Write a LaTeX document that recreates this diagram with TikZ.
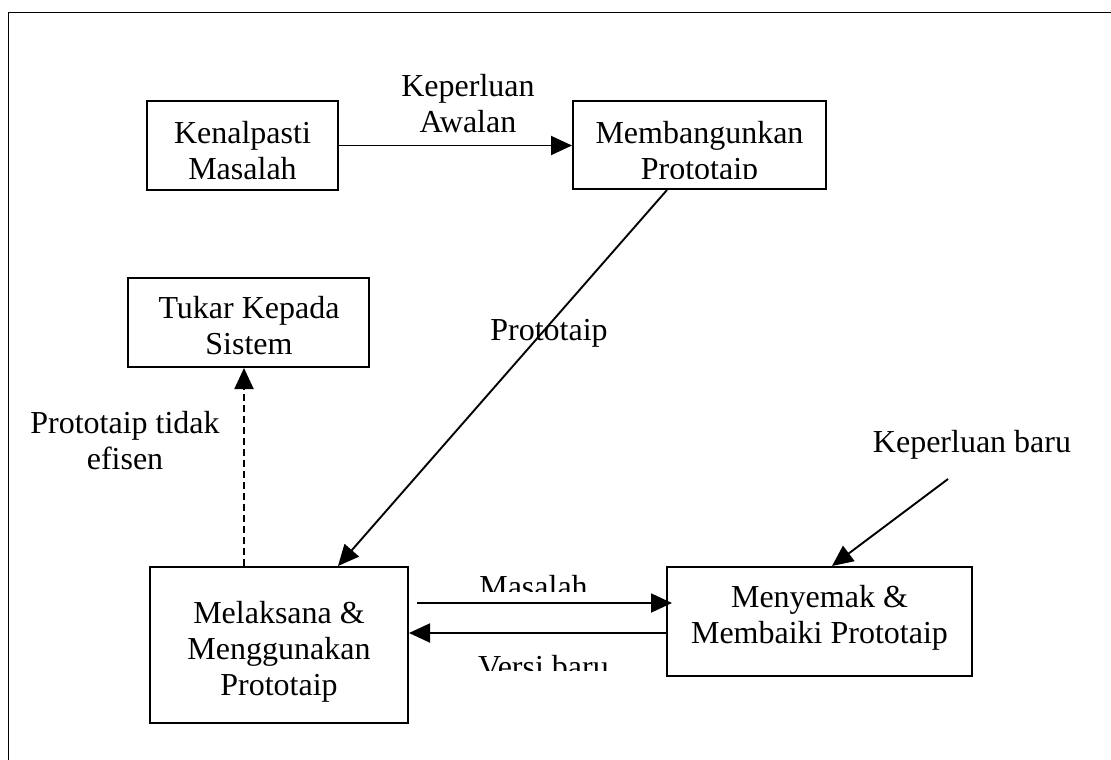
\documentclass[tikz,border=0pt]{standalone}
\usepackage{fontspec}
\setmainfont{Liberation Serif}
\usetikzlibrary{arrows.meta}
\begin{document}
\begin{tikzpicture}[x=1pt,y=-1pt,
  box/.style={draw, line width=2pt, inner sep=0pt},
  lbl/.style={font=\fontsize{32}{36}\selectfont, align=center, inner sep=0pt},
  flow/.style={line width=1.9pt, -{Triangle[length=21pt,width=19pt]}},
]
\useasboundingbox (0,0) rectangle (1111,760);
% page frame (top and left edges)
\draw[line width=1.8pt] (1111,12.5) -- (8.5,12.5) -- (8.5,760);

% process boxes
\node[box, minimum width=191pt, minimum height=89pt]  (kenal) at (242.5,145.5) {};
\node[box, minimum width=253pt, minimum height=88pt]  (memb)  at (699.5,145)   {};
\node[box, minimum width=241pt, minimum height=89pt]  (tukar) at (248.5,322.5) {};
\node[box, minimum width=258pt, minimum height=156pt] (melak) at (279,645)     {};
\node[box, minimum width=305pt, minimum height=109pt] (menye) at (819.5,621.5) {};

% box texts
\node[lbl] (kenal-t) at (242.5,151) {Kenalpasti\\Masalah};
\begin{scope}
  \clip (573,101) rectangle (826,178.5);
  \node[lbl] (memb-t) at (699.5,154) {Membangunkan\\Prototaip};
\end{scope}
\node[lbl] (tukar-t) at (249,326) {Tukar Kepada\\Sistem};
\node[lbl] (melak-t) at (279,651.5) {Melaksana \&\\Menggunakan\\Prototaip};
\node[lbl] (menye-t) at (819.5,618) {Menyemak \&\\Membaiki Prototaip};

% flow labels
\node[lbl] (l-awal) at (468,104) {Keperluan\\Awalan};
\node[lbl, anchor=base] (l-proto) at (549,340) {Prototaip};
\node[lbl] (l-tidak) at (125,441) {Prototaip tidak\\efisen};
\node[lbl, anchor=base] (l-baru) at (972,452) {Keperluan baru};
\begin{scope}
  \clip (400,560) rectangle (660,591);
  \node[lbl, anchor=base] (l-masalah) at (533.5,597) {Masalah};
\end{scope}
\begin{scope}
  \clip (400,640) rectangle (660,670);
  \node[lbl, anchor=base] (l-versi) at (543.5,677) {Versi baru};
\end{scope}

% connectors
\draw[flow] (kenal.east) -- (kenal.east -| memb.west);
\draw[flow] ([shift={(-32.5,0)}]memb.south) -- ([shift={(59,0)}]melak.north);
\coordinate (d1) at ([shift={(-35,0)}]melak.north);
\draw[flow, dash pattern=on 7pt off 4pt] (d1) -- (d1 |- tukar.south);
\coordinate (m1) at ([shift={(8,-42)}]melak.east);
\draw[flow] (m1) -- ([shift={(6,0)}]m1 -| menye.west);
\coordinate (v1) at ([shift={(0,11.5)}]menye.west);
\draw[flow] (v1) -- (v1 -| melak.east);
\coordinate (kb) at (948,479);
\draw[flow] (kb) -- ([shift={(12.5,0)}]menye.north);
\end{tikzpicture}
\end{document}
